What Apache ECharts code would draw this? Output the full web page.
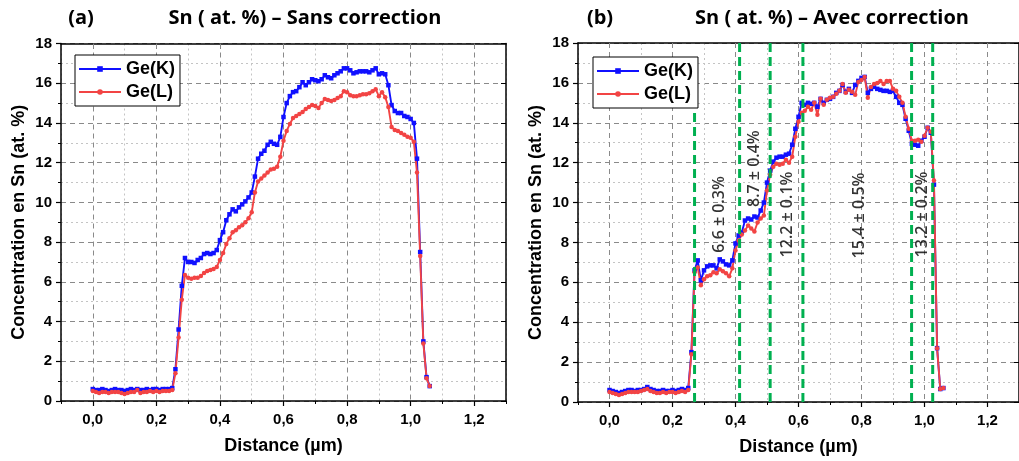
<!DOCTYPE html>
<html><head><meta charset="utf-8">
<script src="https://cdn.jsdelivr.net/npm/echarts@6/dist/echarts.min.js"></script>
<style>html,body{margin:0;padding:0;background:#fff}#c{width:1019px;height:461px}</style>
</head><body><div id="c"></div>
<script>
// ---- data ----
const distance = [
  0.00,0.01,0.02,0.03,0.04,0.05,0.06,0.07,0.08,0.09,
  0.10,0.11,0.12,0.13,0.14,0.15,0.16,0.17,0.18,0.19,
  0.20,0.21,0.22,0.23,0.24,0.25,0.26,0.27,0.28,0.29,
  0.30,0.31,0.32,0.33,0.34,0.35,0.36,0.37,0.38,0.39,
  0.40,0.41,0.42,0.43,0.44,0.45,0.46,0.47,0.48,0.49,
  0.50,0.51,0.52,0.53,0.54,0.55,0.56,0.57,0.58,0.59,
  0.60,0.61,0.62,0.63,0.64,0.65,0.66,0.67,0.68,0.69,
  0.70,0.71,0.72,0.73,0.74,0.75,0.76,0.77,0.78,0.79,
  0.80,0.81,0.82,0.83,0.84,0.85,0.86,0.87,0.88,0.89,
  0.90,0.91,0.92,0.93,0.94,0.95,0.96,0.97,0.98,0.99,
  1.00,1.01,1.02,1.03,1.04,1.05,1.06
];
// (a) Sans correction
const snKRaw = [
  0.6,0.55,0.55,0.6,0.55,0.5,0.55,0.6,0.55,0.55,
  0.5,0.55,0.6,0.55,0.6,0.55,0.55,0.6,0.55,0.6,
  0.6,0.55,0.6,0.6,0.6,0.65,1.6,3.6,5.8,7.2,
  7.0,7.0,6.95,7.1,7.2,7.4,7.45,7.4,7.45,7.6,
  8.1,8.5,9.1,9.4,9.65,9.55,9.75,9.9,10.05,10.25,
  10.5,11.3,12.2,12.45,12.6,12.9,13.05,12.95,12.9,13.3,
  14.3,15.0,15.35,15.55,15.6,15.8,16.05,15.9,16.05,16.2,
  16.15,16.1,16.2,16.4,16.3,16.25,16.4,16.5,16.6,16.75,
  16.75,16.65,16.5,16.55,16.6,16.6,16.6,16.55,16.65,16.75,
  16.45,16.5,16.45,15.9,14.9,14.6,14.5,14.5,14.35,14.3,
  14.2,14.0,12.2,7.5,3.0,1.2,0.75
];
const snLRaw = [
  0.5,0.45,0.4,0.45,0.45,0.4,0.45,0.45,0.45,0.4,
  0.35,0.4,0.45,0.45,0.55,0.4,0.45,0.45,0.5,0.45,
  0.5,0.45,0.5,0.5,0.5,0.55,1.4,3.2,5.1,6.35,
  6.2,6.15,6.2,6.2,6.3,6.45,6.55,6.6,6.65,6.75,
  7.1,7.45,7.9,8.2,8.5,8.6,8.75,8.85,9.0,9.2,
  9.5,10.5,11.05,11.2,11.35,11.5,11.65,11.7,11.8,12.3,
  13.1,13.6,13.95,14.25,14.35,14.45,14.55,14.7,14.8,14.9,
  14.85,14.75,15.0,15.2,15.15,15.1,15.15,15.25,15.35,15.6,
  15.55,15.4,15.35,15.35,15.4,15.45,15.45,15.5,15.6,15.7,
  15.35,15.55,15.3,14.8,13.8,13.65,13.6,13.5,13.4,13.3,
  13.25,13.05,11.5,7.3,2.9,1.15,0.75
];
// (b) Avec correction
const snKCorr = [
  0.6,0.55,0.5,0.45,0.5,0.55,0.6,0.6,0.55,0.6,
  0.6,0.65,0.75,0.65,0.6,0.55,0.55,0.6,0.55,0.55,
  0.6,0.55,0.6,0.65,0.6,0.7,2.5,6.6,7.1,6.1,
  6.6,6.8,6.85,6.85,6.7,7.15,7.05,6.9,6.85,7.1,
  7.95,8.35,8.5,9.1,9.2,9.15,9.3,9.25,9.6,10.0,
  11.0,11.6,12.05,12.25,12.3,12.3,12.4,12.45,12.9,13.7,
  14.3,15.0,14.9,15.0,14.95,15.0,14.8,15.2,15.0,15.15,
  15.2,15.3,15.5,15.6,15.9,15.55,15.7,15.5,15.9,16.1,
  16.25,16.3,15.5,15.7,15.8,15.7,15.65,15.6,15.6,15.55,
  15.6,15.3,15.0,14.9,14.2,13.6,12.95,12.9,12.85,13.1,
  13.3,13.75,13.5,10.9,2.7,0.65,0.7
];
const snLCorr = [
  0.5,0.45,0.4,0.35,0.4,0.45,0.5,0.5,0.5,0.5,
  0.55,0.6,0.65,0.55,0.5,0.45,0.45,0.5,0.45,0.5,
  0.5,0.45,0.5,0.55,0.5,0.6,2.4,6.5,6.75,5.85,
  6.15,6.3,6.35,6.5,6.45,6.65,6.55,6.45,6.3,6.7,
  7.6,8.1,8.4,8.6,8.85,8.7,8.55,9.0,9.2,9.35,
  10.6,11.4,11.8,11.95,11.9,11.95,12.15,12.0,12.3,13.3,
  14.05,14.5,14.6,14.8,14.65,15.0,14.4,15.2,14.9,15.15,
  15.25,15.3,15.45,15.6,15.95,15.5,15.65,15.55,15.4,16.05,
  16.15,16.3,15.25,15.8,15.95,16.0,16.1,15.95,16.1,16.1,
  15.7,15.6,15.3,15.0,14.3,13.7,13.1,13.1,13.15,13.05,
  13.35,13.75,13.55,11.1,2.7,0.65,0.7
];
const xMajorTicks = [0, 0.2, 0.4, 0.6, 0.8, 1.0, 1.2];
const boundaries = [0.27, 0.413, 0.51, 0.614, 0.959, 1.026];
const boundaryTops = [14.6, 18, 18, 18, 18, 18];
const layerLabels = ['6.6 ± 0.3%', '8.7 ± 0.4%', '12.2 ± 0.1%', '15.4 ± 0.5%', '13.2 ± 0.2%'];
const layerLabelX = [0.348, 0.46, 0.564, 0.793, 0.994];
const layerLabelY = [9.4, 11.7, 9.4, 9.35, 9.4];
const panelTags = ['(a)', '(b)'];
const panelTitles = ['Sn ( at. %) \u2013 Sans correction', 'Sn ( at. %) \u2013 Avec correction'];

// ---- chart ----
const AX = 'Liberation Sans';
const grids = [
  {left: 61, top: 43.5, width: 445, height: 357.5},
  {left: 578, top: 43, width: 447, height: 361}
];
const xAxes = [], yAxes = [];
for (let g = 0; g < 2; g++) {
  xAxes.push({
    gridIndex: g, type: 'value', position: 'bottom', min: -0.1, max: 1.3,
    name: 'Distance (\u00b5m)', nameLocation: 'middle', nameGap: 36,
    nameTextStyle: {fontFamily: AX, fontWeight: 'bold', fontSize: 18, color: '#000'},
    axisLine: {show: true, onZero: false, lineStyle: {color: '#000', width: 1.5}},
    axisTick: {show: true, inside: false, length: 5, customValues: xMajorTicks, lineStyle: {color: '#000', width: 1.2}},
    axisLabel: {show: true, customValues: xMajorTicks, margin: 11, fontFamily: AX, fontWeight: 'bold', fontSize: 15, color: '#000',
      formatter: v => v.toFixed(1).replace('.', ',')},
    splitLine: {show: true, lineStyle: {color: '#8a8a8a', type: [5, 4], width: 1}},
    z: 3
  });
}
for (let g = 0; g < 2; g++) {
  // minor grid lines / minor ticks (ticks counted from min: -0.1, 0.1, 0.3, ...)
  xAxes.push({
    gridIndex: g, type: 'value', position: 'bottom', min: -0.1, max: 1.3, interval: 0.2,
    axisLine: {show: false, onZero: false},
    axisTick: {show: true, inside: false, length: 3, lineStyle: {color: '#000', width: 1}},
    axisLabel: {show: false},
    splitLine: {show: true, lineStyle: {color: '#c4c4c4', type: [2, 3], width: 1}}
  });
}
for (let g = 0; g < 2; g++) {
  xAxes.push({
    gridIndex: g, type: 'value', position: 'top', min: -0.1, max: 1.3,
    axisLine: {show: true, onZero: false, lineStyle: {color: '#000', width: 1.5}},
    axisTick: {show: true, inside: true, length: 5, customValues: xMajorTicks, lineStyle: {color: '#000'}},
    axisLabel: {show: false}, splitLine: {show: false}
  });
}
for (let g = 0; g < 2; g++) {
  yAxes.push({
    gridIndex: g, type: 'value', position: 'left', min: 0, max: 18, interval: 2,
    name: 'Concentration en Sn (at. %)', nameLocation: 'middle', nameGap: 33,
    nameTextStyle: {fontFamily: AX, fontWeight: 'bold', fontSize: 18, color: '#000'},
    axisLine: {show: true, onZero: false, lineStyle: {color: '#000', width: 1.5}},
    axisTick: {show: true, inside: false, length: 5, lineStyle: {color: '#000', width: 1.2}},
    minorTick: {show: true, splitNumber: 2, length: 3, lineStyle: {color: '#000'}},
    axisLabel: {margin: 9, fontFamily: AX, fontWeight: 'bold', fontSize: 15, color: '#000'},
    splitLine: {show: true, lineStyle: {color: '#8a8a8a', type: [5, 4], width: 1}},
    minorSplitLine: {show: true, lineStyle: {color: '#c4c4c4', type: [2, 3], width: 1}}
  });
}
for (let g = 0; g < 2; g++) {
  yAxes.push({
    gridIndex: g, type: 'value', position: 'right', min: 0, max: 18, interval: 2,
    axisLine: {show: true, onZero: false, lineStyle: {color: '#000', width: 1.5}},
    axisTick: {show: true, inside: true, length: 5, lineStyle: {color: '#000'}},
    axisLabel: {show: false}, splitLine: {show: false}
  });
}

const pairs = arr => distance.map((d, i) => [d, arr[i]]);
const BLUE = '#1010ff', RED = '#f24444';
function dataSeries(name, arr, g, color, symbol) {
  return {
    name, type: 'line', xAxisIndex: g, yAxisIndex: g, data: pairs(arr),
    showSymbol: true, symbol, symbolSize: 4.5, animation: false,
    lineStyle: {color, width: 1.9}, itemStyle: {color}, z: 4
  };
}
const series = [
  dataSeries('Ge(K)', snKRaw, 0, BLUE, 'rect'),
  dataSeries('Ge(L)', snLRaw, 0, RED, 'circle'),
  dataSeries('Ge(K)', snKCorr, 1, BLUE, 'rect'),
  dataSeries('Ge(L)', snLCorr, 1, RED, 'circle')
];
boundaries.forEach((b, i) => {
  series.push({
    type: 'line', xAxisIndex: 1, yAxisIndex: 1, silent: true, animation: false,
    data: [[b, 0], [b, boundaryTops[i]]], symbol: 'none',
    lineStyle: {color: '#00b050', width: 3, type: [9, 5]}, z: 6
  });
});
series.push({
  type: 'scatter', xAxisIndex: 1, yAxisIndex: 1, silent: true, animation: false,
  symbolSize: 0,
  data: layerLabels.map((t, i) => ({value: [layerLabelX[i], layerLabelY[i]], label: {formatter: t}})),
  label: {show: true, position: 'inside', rotate: 90, fontFamily: 'Open Sans', fontWeight: 600, fontSize: 16, color: '#000'},
  z: 7
});

const legendBase = {
  orient: 'vertical', data: ['Ge(K)', 'Ge(L)'], itemWidth: 42, itemHeight: 7, itemGap: 5,
  backgroundColor: '#fff', borderColor: '#000', borderWidth: 1, padding: [5, 5, 5, 3],
  textStyle: {fontFamily: AX, fontWeight: 'bold', fontSize: 18, color: '#000'}
};
const TT = {fontFamily: 'Open Sans', fontWeight: 'bold', fontSize: 20, color: '#000'};
const option = {
  animation: false,
  backgroundColor: '#fff',
  title: [
    {text: panelTags[0], left: 76, top: 3, textAlign: 'center', textStyle: TT},
    {text: panelTitles[0], left: 300, top: 3, textAlign: 'center', textStyle: TT},
    {text: panelTags[1], left: 595, top: 3, textAlign: 'center', textStyle: TT},
    {text: panelTitles[1], left: 827, top: 3, textAlign: 'center', textStyle: TT}
  ],
  legend: [
    Object.assign({left: 75, top: 55}, legendBase),
    Object.assign({left: 593, top: 57}, legendBase)
  ],
  grid: grids,
  xAxis: xAxes,
  yAxis: yAxes,
  series
};
const chart = echarts.init(document.getElementById('c'), null, {renderer: 'canvas'});
chart.setOption(option);
</script>
</body></html>
